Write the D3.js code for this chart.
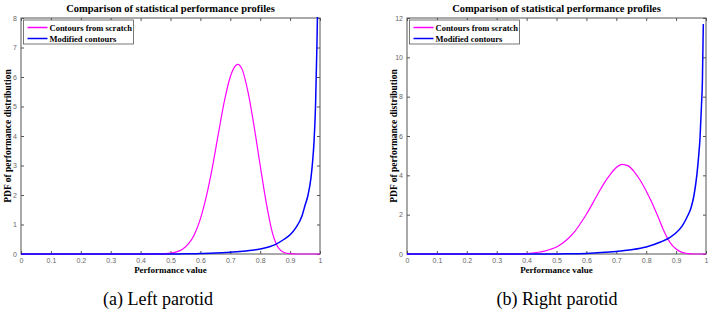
<!DOCTYPE html>
<html>
<head>
<meta charset="utf-8">
<script src="https://cdn.jsdelivr.net/npm/d3@7"></script>
<style>
  body { margin: 0; background: #fff; }
  svg text { font-family: "Liberation Serif", "Times New Roman", serif; }
  .tick text { font-family: "Liberation Sans", Arial, sans-serif; font-size: 7px; fill: #666; }
  .tick line { stroke: #555; }
  .domain { stroke: none; }
</style>
</head>
<body>
<svg id="chart" width="712" height="315"></svg>
<script>

// performance values (x) and pdf values (y)
var xTicks = [0, 0.1, 0.2, 0.3, 0.4, 0.5, 0.6, 0.7, 0.8, 0.9, 1];

var leftScratchX = [0, 0.2, 0.4, 0.46, 0.48, 0.5, 0.52, 0.54, 0.56, 0.58, 0.6, 0.62, 0.64, 0.66, 0.68, 0.7, 0.72, 0.725, 0.74, 0.76, 0.78, 0.8, 0.82, 0.84, 0.86, 0.88, 0.9, 0.92, 1];
var leftScratchY = [0, 0, 0, 0.003, 0.01, 0.027, 0.07, 0.16, 0.34, 0.66, 1.19, 1.96, 2.94, 4.07, 5.17, 6.01, 6.41, 6.43, 6.25, 5.45, 4.3, 3.0, 1.75, 0.75, 0.22, 0.05, 0.01, 0, 0];

var leftModifiedX = [0, 0.2, 0.4, 0.5, 0.55, 0.6, 0.65, 0.7, 0.75, 0.8, 0.85, 0.88, 0.9, 0.92, 0.94, 0.95, 0.96, 0.97, 0.975, 0.98, 0.985, 0.99, 0.993];
var leftModifiedY = [0, 0, 0, 0.002, 0.005, 0.015, 0.03, 0.06, 0.1, 0.17, 0.32, 0.5, 0.65, 0.9, 1.3, 1.65, 2.0, 2.6, 3.1, 3.8, 5.0, 7.2, 9.0];

var rightScratchX = [0, 0.2, 0.38, 0.4, 0.42, 0.44, 0.46, 0.48, 0.5, 0.52, 0.54, 0.56, 0.58, 0.6, 0.62, 0.64, 0.66, 0.68, 0.7, 0.72, 0.74, 0.76, 0.78, 0.8, 0.82, 0.84, 0.86, 0.88, 0.9, 0.92, 0.94, 0.96, 1];
var rightScratchY = [0, 0, 0, 0.02, 0.05, 0.09, 0.15, 0.24, 0.36, 0.55, 0.8, 1.12, 1.55, 2.02, 2.55, 3.1, 3.62, 4.05, 4.4, 4.56, 4.48, 4.18, 3.75, 3.2, 2.58, 1.88, 1.15, 0.58, 0.25, 0.08, 0.02, 0, 0];

var rightModifiedX = [0, 0.2, 0.4, 0.5, 0.55, 0.6, 0.65, 0.7, 0.75, 0.8, 0.85, 0.88, 0.9, 0.92, 0.94, 0.95, 0.96, 0.97, 0.975, 0.98, 0.985, 0.988, 0.991];
var rightModifiedY = [0, 0, 0, 0.004, 0.01, 0.03, 0.07, 0.13, 0.22, 0.36, 0.62, 0.85, 1.08, 1.42, 1.98, 2.35, 3.0, 4.1, 4.9, 5.9, 7.6, 8.8, 11.7];

var seriesNames = ["Contours from scratch", "Modified contours"];
var seriesColors = ["#ff00ff", "#0000ff"];

var titleText = "Comparison of statistical performance profiles";
var captions = ["(a) Left parotid", "(b) Right parotid"];

var panels = [
	{ x0: 21, x1: 320, yMax: 8, yStep: 1, caption: captions[0], capX: 158,
	  series: [[leftScratchX, leftScratchY], [leftModifiedX, leftModifiedY]] },
	{ x0: 407, x1: 706, yMax: 12, yStep: 2, caption: captions[1], capX: 557,
	  series: [[rightScratchX, rightScratchY], [rightModifiedX, rightModifiedY]] }
];

var plotTop = 18, plotBottom = 254;
var svg = d3.select("#chart");

panels.forEach(function(p, pi) {

	var xScale = d3.scaleLinear().domain([0, 1]).range([p.x0, p.x1]);
	var yScale = d3.scaleLinear().domain([0, p.yMax]).range([plotBottom, plotTop]);
	var yTicks = d3.range(0, p.yMax + 0.001, p.yStep);
	var fmt = function(d) { return String(+d.toFixed(1)); };

	var g = svg.append("g").attr("class", "panel" + pi);

	// axes, ticks pointing in like matlab
	g.append("g").attr("transform", "translate(0," + plotBottom + ")")
		.call(d3.axisBottom(xScale).tickValues(xTicks).tickFormat(fmt).tickSizeInner(-3).tickSizeOuter(0).tickPadding(4));
	g.append("g").attr("transform", "translate(0," + plotTop + ")")
		.call(d3.axisTop(xScale).tickValues(xTicks).tickFormat("").tickSizeInner(-3).tickSizeOuter(0));
	g.append("g").attr("transform", "translate(" + p.x0 + ",0)")
		.call(d3.axisLeft(yScale).tickValues(yTicks).tickFormat(fmt).tickSizeInner(-3).tickSizeOuter(0).tickPadding(4));
	g.append("g").attr("transform", "translate(" + p.x1 + ",0)")
		.call(d3.axisRight(yScale).tickValues(yTicks).tickFormat("").tickSizeInner(-3).tickSizeOuter(0));

	g.append("rect")
		.attr("x", p.x0).attr("y", plotTop)
		.attr("width", p.x1 - p.x0).attr("height", plotBottom - plotTop)
		.attr("fill", "none").attr("stroke", "#555").attr("stroke-width", 1);

	svg.append("clipPath").attr("id", "clip" + pi)
		.append("rect")
		.attr("x", p.x0).attr("y", plotTop - 1)
		.attr("width", p.x1 - p.x0).attr("height", plotBottom - plotTop + 2);

	var line = d3.line()
		.curve(d3.curveMonotoneX)
		.x(function(d) { return xScale(d[0]); })
		.y(function(d) { return yScale(d[1]); });

	p.series.forEach(function(s, si) {
		var pts = d3.zip(s[0], s[1]);
		g.append("path")
			.attr("clip-path", "url(#clip" + pi + ")")
			.attr("d", line(pts))
			.attr("fill", "none")
			.attr("stroke", seriesColors[si])
			.attr("stroke-width", si == 1 ? 1.5 : 1.2);
	});

	var cx = (p.x0 + p.x1) / 2;

	g.append("text")
		.attr("x", cx).attr("y", 12)
		.attr("text-anchor", "middle")
		.attr("font-weight", "bold").attr("font-size", "10.5px")
		.text(titleText);

	g.append("text")
		.attr("x", cx).attr("y", 273)
		.attr("text-anchor", "middle")
		.attr("font-weight", "bold").attr("font-size", "9px")
		.text("Performance value");

	g.append("text")
		.attr("transform", "translate(" + (p.x0 - 10) + "," + ((plotTop + plotBottom) / 2) + ") rotate(-90)")
		.attr("text-anchor", "middle")
		.attr("font-weight", "bold").attr("font-size", "9.5px")
		.text("PDF of performance distribution");

	g.append("text")
		.attr("x", p.capX).attr("y", 305)
		.attr("text-anchor", "middle")
		.attr("font-size", "18px")
		.text(p.caption);

	// legend
	var lg = g.append("g").attr("transform", "translate(" + (p.x0 + 2.5) + "," + (plotTop + 2) + ")");
	lg.append("rect")
		.attr("width", 110).attr("height", 24)
		.attr("fill", "#fff").attr("stroke", "#555").attr("stroke-width", 0.8);
	seriesNames.forEach(function(name, i) {
		var yy = 7.5 + i * 11;
		lg.append("line")
			.attr("x1", 4).attr("x2", 24).attr("y1", yy).attr("y2", yy)
			.attr("stroke", seriesColors[i]).attr("stroke-width", 1.5);
		lg.append("text")
			.attr("x", 26).attr("y", yy + 3)
			.attr("font-weight", "bold").attr("font-size", "8.5px")
			.text(name);
	});

});

</script>
</body>
</html>
